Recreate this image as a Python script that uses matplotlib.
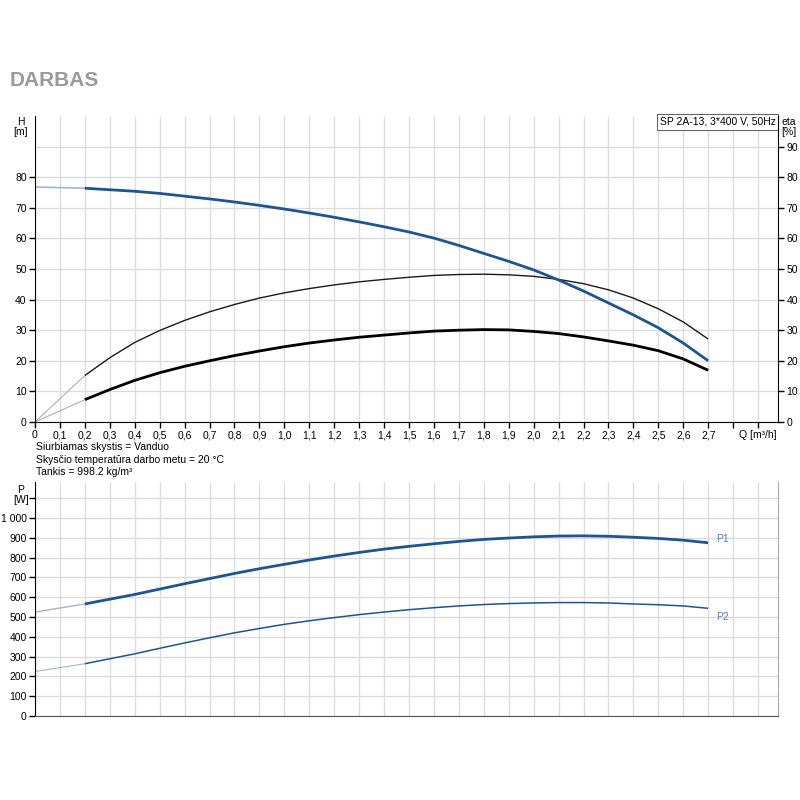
import matplotlib
matplotlib.use("Agg")
import matplotlib.pyplot as plt
import numpy as np

plt.rcParams['font.family'] = ['Liberation Sans', 'DejaVu Sans']
plt.rcParams['lines.solid_joinstyle'] = 'round'
plt.rcParams['lines.solid_capstyle'] = 'butt'

# ---- data ----
q = [0.2, 0.3, 0.4, 0.5, 0.6, 0.7, 0.8, 0.9, 1.0, 1.1, 1.2, 1.3, 1.4, 1.5,
     1.6, 1.7, 1.8, 1.9, 2.0, 2.1, 2.2, 2.3, 2.4, 2.5, 2.6, 2.7]
head = [76.4, 75.9, 75.4, 74.7, 73.8, 72.9, 71.9, 70.8, 69.6, 68.3, 66.9, 65.4,
        63.8, 62.1, 60.1, 57.7, 55.1, 52.5, 49.7, 46.4, 42.8, 38.9, 35.0, 30.8,
        25.8, 20.0]
eta_pump = [15.2, 21.0, 26.0, 29.9, 33.2, 36.0, 38.4, 40.5, 42.2, 43.6, 44.8,
            45.8, 46.6, 47.3, 47.9, 48.2, 48.3, 48.1, 47.6, 46.6, 45.2, 43.2,
            40.5, 37.0, 32.7, 27.1]
eta_total = [7.3, 10.6, 13.6, 16.1, 18.2, 20.0, 21.7, 23.2, 24.6, 25.8, 26.8,
             27.7, 28.4, 29.1, 29.7, 30.0, 30.2, 30.1, 29.6, 28.9, 27.8, 26.5,
             25.1, 23.3, 20.6, 16.9]
p1 = [566, 590, 614, 641, 668, 694, 720, 744, 766, 788, 808, 826, 843, 857,
      870, 882, 892, 899, 905, 909, 910, 908, 903, 897, 888, 875]
p2 = [264, 289, 314, 342, 369, 395, 420, 442, 463, 481, 497, 512, 525, 537,
      547, 556, 563, 568, 571, 573, 573, 571, 566, 562, 556, 544]
# values at Q = 0 (thin extension)
q_zero = 0.0
head0 = 76.8
eta_pump0 = 0.0
eta_total0 = 0.0
p1_0 = 525
p2_0 = 225

x_ticks = [round(0.1 * i, 1) for i in range(30)]
x_labels = ["0"] + [f"{v:.1f}".replace(".", ",") for v in x_ticks[1:28]] + ["", "Q [m³/h]"]

BLUE = "#1c5592"
LBLUE = "#9fb6cf"
GRID = "#dcdcdc"
FS = 7.5

fig = plt.figure(figsize=(8, 8), dpi=100)
fig.patch.set_facecolor("white")

fig.text(10/800, 1-80/800, "DARBAS", fontsize=15, fontweight="bold",
         color="#9a9a9a", va="center", ha="left")

# ---- top axes ----
ax = fig.add_axes([35/800, 1-422/800, (778-35)/800, (422-116)/800])
ax.set_xlim(0, 2.98)
ax.set_ylim(0, 100)
ax.set_xticks(x_ticks)
ax.set_xticklabels(x_labels, fontsize=FS)
ax.set_yticks(range(0, 90, 10))
ax.set_yticklabels([str(v) for v in range(0, 90, 10)], fontsize=FS)
ax.set_yticks([90], minor=True)
ax.tick_params(axis="y", which="minor", length=0)
ax.grid(True, which="both", color=GRID, lw=1)
ax.set_axisbelow(True)
ax.tick_params(which="major", direction="out", length=4, width=1, color="black", pad=2)
ax.spines["top"].set_visible(False)
ax.spines["left"].set_color("black")
ax.spines["bottom"].set_color("black")
ax.spines["right"].set_visible(False)

ax2 = ax.twinx()
ax2.set_ylim(0, 100)
ax2.set_yticks(range(0, 100, 10))
ax2.set_yticklabels([str(v) for v in range(0, 100, 10)], fontsize=FS)
ax2.tick_params(direction="out", length=4, width=1, color="black", pad=2)
ax2.spines["top"].set_visible(False)
ax2.spines["left"].set_visible(False)
ax2.spines["bottom"].set_visible(False)
ax2.spines["right"].set_color("black")

# thin extensions
ax.plot([q_zero, q[0]], [head0, head[0]], color=LBLUE, lw=1.2)
ax.plot([q_zero, q[0]], [eta_pump0, eta_pump[0]], color="#b0b0b0", lw=0.8)
ax.plot([q_zero, q[0]], [eta_total0, eta_total[0]], color="#b0b0b0", lw=0.8)
# curves
ax.plot(q, eta_pump, color="#1a1a1a", lw=1.0)
ax.plot(q, eta_total, color="black", lw=2.0)
ax.plot(q, head, color=BLUE, lw=2.0)

ax.text(0.997, 0.997, "SP 2A-13, 3*400 V, 50Hz", transform=ax.transAxes,
        ha="right", va="top", fontsize=FS,
        bbox=dict(boxstyle="square,pad=0.25", facecolor="white",
                  edgecolor="#666666", lw=0.8))

fig.text(21/800, 1-127/800, "H\n[m]", ha="center", va="center", fontsize=FS,
         linespacing=1.1)
fig.text(789/800, 1-127/800, "eta\n[%]", ha="center", va="center", fontsize=FS,
         linespacing=1.1)

fig.text(36/800, 1-447/800, "Siurbiamas skystis = Vanduo", fontsize=FS, va="center")
fig.text(36/800, 1-460/800, "Skysčio temperatūra darbo metu = 20 °C", fontsize=FS, va="center")
fig.text(36/800, 1-472/800, "Tankis = 998.2 kg/m³", fontsize=FS, va="center")

# ---- bottom axes ----
bx = fig.add_axes([35/800, 1-716/800, (778-35)/800, (716-482)/800])
bx.set_xlim(0, 2.98)
bx.set_ylim(0, 1182)
bx.set_xticks(x_ticks)
bx.set_xticklabels([])
bx.tick_params(axis="x", length=0)
bx.set_yticks(range(0, 1200, 100))
bx.set_yticklabels([str(v) if v < 1000 else "1 000" for v in range(0, 1100, 100)] + [""],
                   fontsize=FS)
bx.tick_params(axis="y", direction="out", length=4, width=1, color="black", pad=2)
bx.grid(True, color=GRID, lw=1)
bx.set_axisbelow(True)
bx.spines["top"].set_visible(False)
bx.spines["left"].set_color("black")
bx.spines["bottom"].set_color("#555555")
bx.spines["right"].set_color("#aaaaaa")

bx.plot([q_zero, q[0]], [p1_0, p1[0]], color=LBLUE, lw=1.0)
bx.plot([q_zero, q[0]], [p2_0, p2[0]], color=LBLUE, lw=0.8)
bx.plot(q, p1, color=BLUE, lw=2.0)
bx.plot(q, p2, color=BLUE, lw=1.1)

bx.annotate("P1", (q[-1], p1[-1]), xytext=(6, 3), textcoords="offset points",
            fontsize=FS, color="#5b7fb0", va="center")
bx.annotate("P2", (q[-1], p2[-1]), xytext=(6, -6), textcoords="offset points",
            fontsize=FS, color="#5b7fb0", va="center")

fig.text(21/800, 1-495/800, "P\n[W]", ha="center", va="center", fontsize=FS,
         linespacing=1.1)

fig.savefig("out.png", dpi=100, facecolor="white")
